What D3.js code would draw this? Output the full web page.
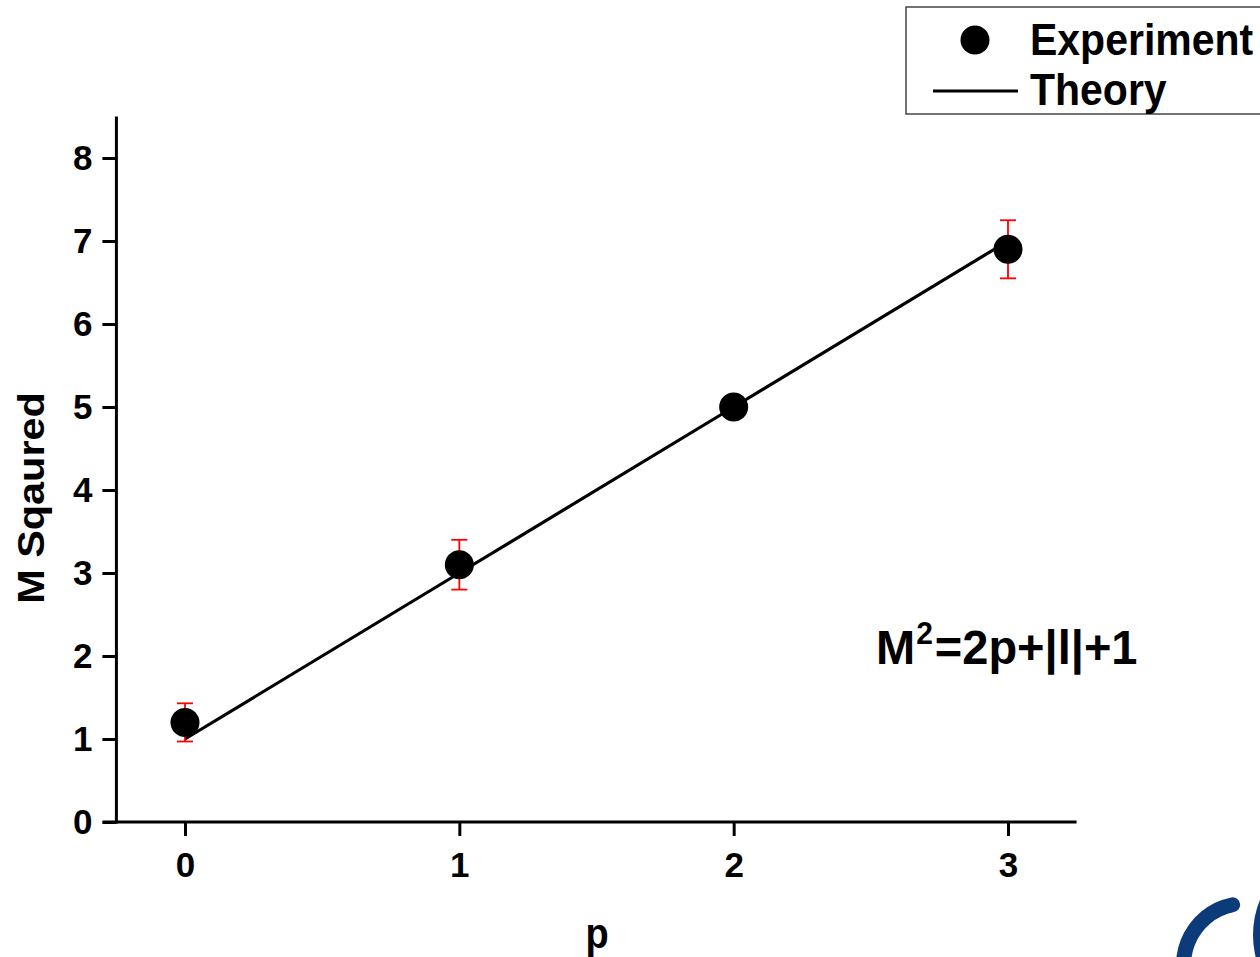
<!DOCTYPE html>
<html>
<head>
<meta charset="utf-8">
<script src="https://cdn.jsdelivr.net/npm/d3@7/dist/d3.min.js"></script>
<style>
  html, body { margin: 0; padding: 0; background: #fff; }
  svg { display: block; }
  text { font-family: "Liberation Sans", Arial, sans-serif; font-weight: bold; fill: #000; }
</style>
</head>
<body>
<svg id="chart" width="1260" height="957"></svg>
<script>
// ---- data ----
const pValues = [0, 1, 2, 3];
const experiment = [1.2, 3.1, 5.0, 6.9];
const expError = [0.23, 0.30, 0.10, 0.35];
const theory = [1, 3, 5, 7];
const yTicks = [0, 1, 2, 3, 4, 5, 6, 7, 8];
const xTicks = [0, 1, 2, 3];
const xTitle = "p";
const yTitle = "M Sqaured";
const legendLabels = ["Experiment", "Theory"];
const annotationParts = ["M", "2", "=2p+|l|+1"];

const svg = d3.select("#chart");
const x = d3.scaleLinear().domain([0, 3]).range([185, 1008]);
const y = d3.scaleLinear().domain([0, 8]).range([822, 158]);
const xMin = -0.3, xMax = 3.25, yAxisAt = -0.25, yMax = 8.5;

// ---- axes ----
const yAxis = d3.axisLeft(y).tickValues(yTicks).tickSize(14).tickPadding(10).tickFormat(d3.format("d"));
const gy = svg.append("g").attr("transform", `translate(${x(yAxisAt)},0)`).call(yAxis);
gy.select(".domain").remove();
gy.selectAll(".tick line").attr("stroke", "#000").attr("stroke-width", 3);
gy.selectAll(".tick text").attr("font-size", 35).attr("font-family", "Liberation Sans, Arial, sans-serif").attr("font-weight", "bold").attr("fill", "#000");
svg.append("line").attr("x1", x(yAxisAt)).attr("x2", x(yAxisAt)).attr("y1", y(0) + 1.5).attr("y2", y(yMax))
  .attr("stroke", "#000").attr("stroke-width", 3);

const xAxis = d3.axisBottom(x).tickValues(xTicks).tickSize(14).tickPadding(16).tickFormat(d3.format("d"));
const gx = svg.append("g").attr("transform", `translate(0,${y(0)})`).call(xAxis);
gx.select(".domain").remove();
gx.selectAll(".tick line").attr("stroke", "#000").attr("stroke-width", 3);
gx.selectAll(".tick text").attr("font-size", 35).attr("font-family", "Liberation Sans, Arial, sans-serif").attr("font-weight", "bold").attr("fill", "#000");
svg.append("line").attr("x1", x(xMin)).attr("x2", x(xMax)).attr("y1", y(0)).attr("y2", y(0))
  .attr("stroke", "#000").attr("stroke-width", 3);

// axis titles
svg.append("text").attr("transform", `translate(597,948) scale(1,1.1)`)
  .attr("text-anchor", "middle").attr("font-size", 38).text(xTitle);
svg.append("text").attr("transform", `translate(44,498) rotate(-90) scale(1.12,1)`)
  .attr("text-anchor", "middle").attr("font-size", 37).text(yTitle);

// ---- theory line ----
const line = d3.line().x((d, i) => x(pValues[i])).y(d => y(d));
svg.append("path").datum(theory).attr("d", line)
  .attr("fill", "none").attr("stroke", "#000").attr("stroke-width", 3.2);

// ---- error bars ----
const eb = svg.append("g").attr("stroke", "#ff0000").attr("stroke-width", 1.8);
experiment.forEach((v, i) => {
  const cx = x(pValues[i]);
  const top = y(v + expError[i]), bot = y(v - expError[i]);
  eb.append("line").attr("x1", cx).attr("x2", cx).attr("y1", top).attr("y2", bot);
  eb.append("line").attr("x1", cx - 8).attr("x2", cx + 8).attr("y1", top).attr("y2", top);
  eb.append("line").attr("x1", cx - 8).attr("x2", cx + 8).attr("y1", bot).attr("y2", bot);
});

// ---- points ----
svg.append("g").selectAll("circle").data(experiment).join("circle")
  .attr("cx", (d, i) => x(pValues[i])).attr("cy", d => y(d)).attr("r", 14.5).attr("fill", "#000");

// ---- annotation ----
const ann = svg.append("text").attr("transform", "translate(876,664) scale(1,1.04)").attr("font-size", 47);
ann.append("tspan").text(annotationParts[0]);
ann.append("tspan").attr("font-size", 30).attr("dx", 1).attr("dy", -19).text(annotationParts[1]);
ann.append("tspan").attr("dx", 2).attr("dy", 19).text(annotationParts[2]);

// ---- legend ----
svg.append("rect").attr("x", 906).attr("y", 7).attr("width", 360).attr("height", 107)
  .attr("fill", "#fff").attr("stroke", "#444").attr("stroke-width", 1.5);
svg.append("circle").attr("cx", 975).attr("cy", 40).attr("r", 14.5).attr("fill", "#000");
svg.append("line").attr("x1", 933).attr("x2", 1018).attr("y1", 91).attr("y2", 91)
  .attr("stroke", "#000").attr("stroke-width", 3);
svg.append("text").attr("transform", "translate(1030,55) scale(1,1.1)").attr("font-size", 41).text(legendLabels[0]);
svg.append("text").attr("transform", "translate(1030,105) scale(1,1.1)").attr("font-size", 41).text(legendLabels[1]);

// ---- partial logo in corner ----
const logoArc = d3.arc().innerRadius(54).outerRadius(69).cornerRadius(7.5).startAngle(-2.3).endAngle(-0.08);
svg.append("path").attr("transform", "translate(1245,965)").attr("d", logoArc()).attr("fill", "#0b3b78");
const ring = d3.arc().innerRadius(77).outerRadius(92).startAngle(0).endAngle(2 * Math.PI);
svg.append("path").attr("transform", "translate(1345,935)").attr("d", ring()).attr("fill", "#0b3b78");
</script>
</body>
</html>
